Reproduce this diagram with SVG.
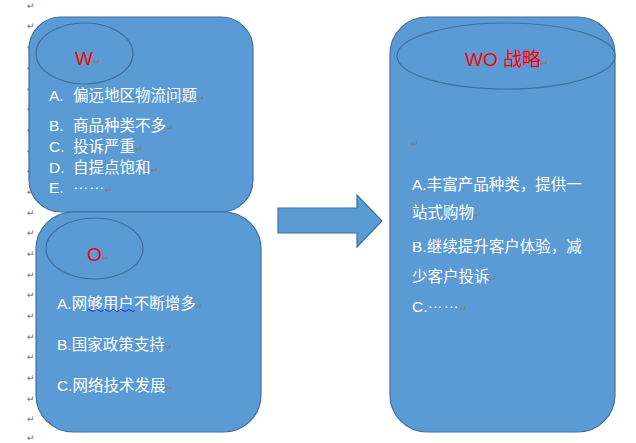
<svg xmlns="http://www.w3.org/2000/svg" width="636" height="443" viewBox="0 0 636 443">
<style>
.box{fill:#5B9BD5;stroke:#41719C;stroke-width:1.2}
.ell{fill:none;stroke:#41719C;stroke-width:1.2}
.t{font-family:"Liberation Sans","Noto Sans CJK SC",sans-serif;font-size:15.5px;fill:#FFFFFF}
.h{font-family:"Liberation Sans","Noto Sans CJK SC",sans-serif;font-size:19px;fill:#FF0000}
.pm{font-family:"DejaVu Sans",sans-serif;font-size:9.5px;fill:#808080}
.el{font-family:"Liberation Sans",sans-serif;letter-spacing:0.5px}
</style>
<rect width="636" height="443" fill="#FFFFFF"/>
<g id="margin-marks" class="pm">
<text x="27" y="9">↵</text><text x="27" y="29">↵</text><text x="27" y="50">↵</text><text x="27" y="71">↵</text>
<text x="27" y="92">↵</text><text x="27" y="112">↵</text><text x="27" y="133">↵</text><text x="27" y="154">↵</text>
<text x="27" y="174">↵</text><text x="27" y="195">↵</text><text x="27" y="216">↵</text><text x="27" y="236">↵</text>
<text x="27" y="257">↵</text><text x="27" y="278">↵</text><text x="27" y="298">↵</text><text x="27" y="319">↵</text>
<text x="27" y="340">↵</text><text x="27" y="360">↵</text><text x="27" y="381">↵</text><text x="27" y="402">↵</text>
<text x="27" y="422">↵</text><text x="27" y="441">↵</text>
</g>
<g id="node-w">
<rect class="box" x="29" y="17" width="224" height="195" rx="32" ry="32"/>
<ellipse class="ell" cx="84.5" cy="53.5" rx="48.5" ry="30.5"/>
<text class="h" x="75" y="65">W<tspan class="pm">↵</tspan></text>
<text class="t" x="49" y="101">A.<tspan x="73">偏远地区物流问题</tspan><tspan class="pm">↵</tspan></text>
<text class="t" x="49" y="131">B.<tspan x="73">商品种类不多</tspan><tspan class="pm">↵</tspan></text>
<text class="t" x="49" y="152">C.<tspan x="73">投诉严重</tspan><tspan class="pm">↵</tspan></text>
<text class="t" x="49" y="173">D.<tspan x="73">自提点饱和</tspan><tspan class="pm">↵</tspan></text>
<text class="t" x="49" y="193">E.<tspan x="73" dy="-4" class="el">……</tspan><tspan class="pm" dy="4">↵</tspan></text>
</g>
<g id="node-o">
<rect class="box" x="36" y="212" width="225" height="220" rx="37" ry="37"/>
<ellipse class="ell" cx="94.5" cy="248.5" rx="48.5" ry="30.5"/>
<text class="h" x="87" y="261">O<tspan class="pm">↵</tspan></text>
<text class="t" x="57" y="309">A.网够用户不断增多<tspan class="pm">↵</tspan></text>
<path d="M87 310.5 q2 -2 4 0 t4 0 t4 0 t4 0 t4 0 t4 0 t4 0 t4 0 t4 0 t4 0 t4 0 t4 0" fill="none" stroke="#2020E0" stroke-width="0.9"/>
<text class="t" x="57" y="350">B.国家政策支持<tspan class="pm">↵</tspan></text>
<text class="t" x="57" y="391">C.网络技术发展<tspan class="pm">↵</tspan></text>
</g>
<g id="connectors">
<path class="box" d="M278 208 L357 208 L357 195 L382 221 L357 247 L357 233 L278 233 Z"/>
</g>
<g id="node-wo">
<rect class="box" x="390" y="17" width="225" height="415" rx="37" ry="37"/>
<ellipse class="ell" cx="506" cy="56" rx="109" ry="33"/>
<text class="h" x="465" y="66">WO 战略<tspan class="pm">↵</tspan></text>
<text class="pm" x="411" y="147">↵</text>
<text class="t" x="412" y="190">A.丰富产品种类，提供一</text>
<text class="t" x="412" y="218">站式购物<tspan class="pm">↵</tspan></text>
<text class="t" x="412" y="252">B.继续提升客户体验，减</text>
<text class="t" x="412" y="282">少客户投诉<tspan class="pm">↵</tspan></text>
<text class="t" x="412" y="312">C.<tspan class="el" dy="-4">……</tspan><tspan class="pm" dy="4">↵</tspan></text>
</g>
</svg>
